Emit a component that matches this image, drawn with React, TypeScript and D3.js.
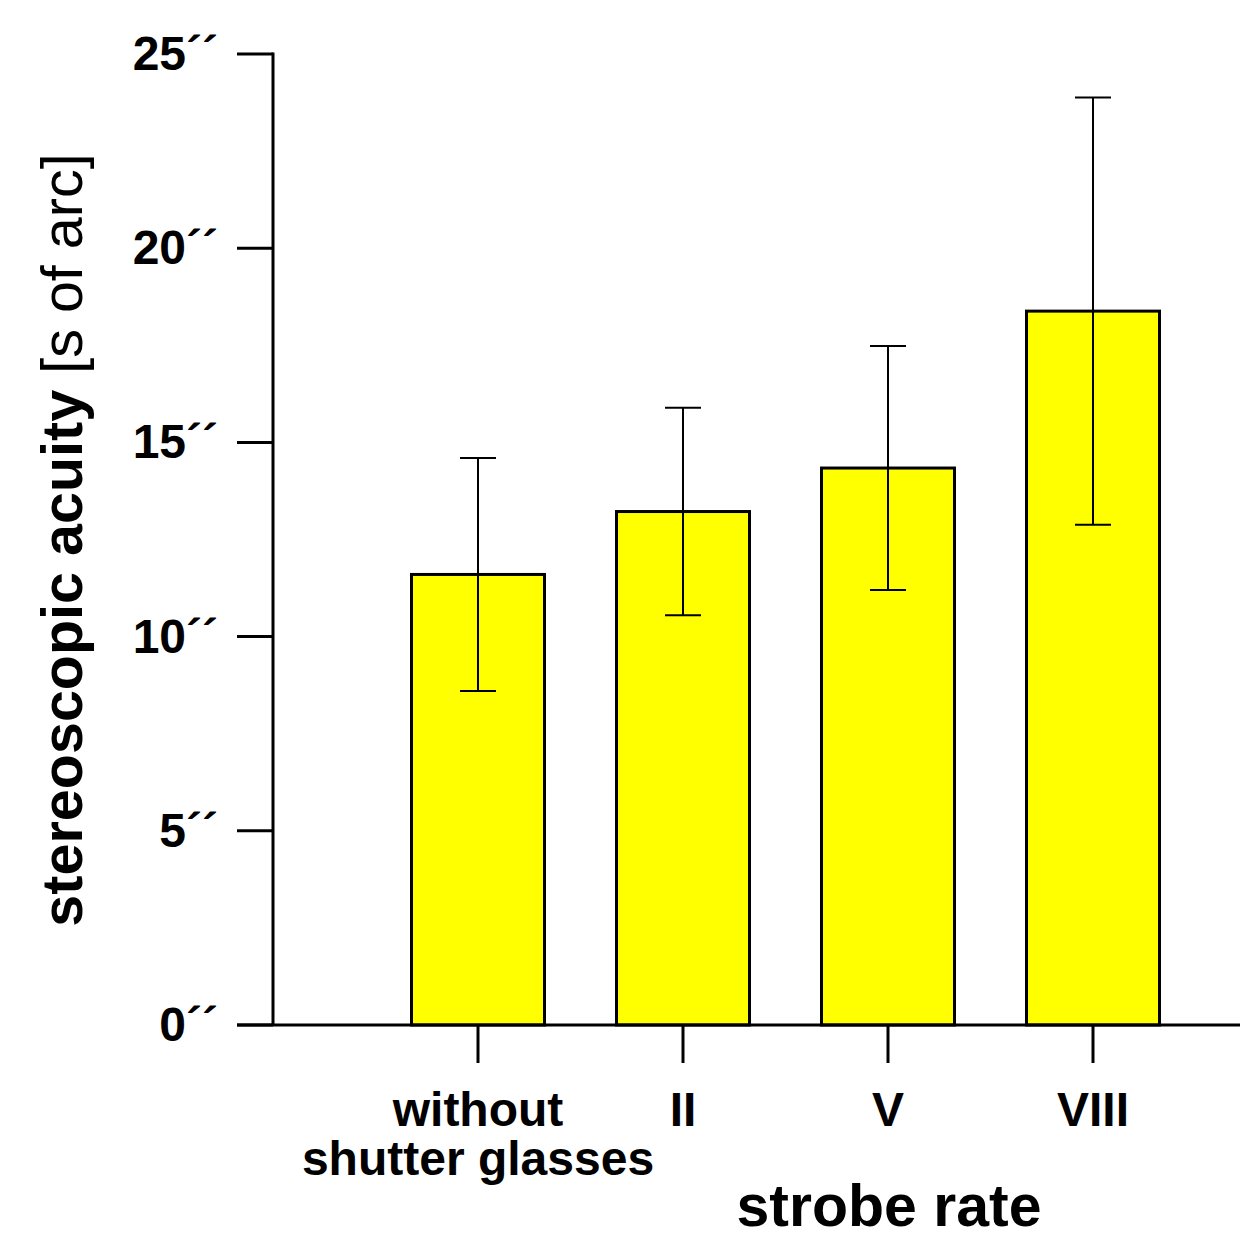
import { useEffect, useRef } from 'react';
import * as d3 from 'd3';

const CATEGORIES = ['without|shutter glasses', 'II', 'V', 'VIII'];
const MEANS = [11.6, 13.22, 14.34, 18.38];
const ERRORS = [3.0, 2.67, 3.14, 5.5];
const Y_TICKS = [0, 5, 10, 15, 20, 25];

const FONT = '"Liberation Sans", Arial, Helvetica, sans-serif';

export default function App() {
  const svgRef = useRef<SVGSVGElement>(null);

  useEffect(() => {
    const svgEl = svgRef.current;
    if (!svgEl) return;
    const svg = d3.select(svgEl);
    svg.selectAll('*').remove();

    const y = d3.scaleLinear().domain([0, 25]).range([1025, 54]);
    const x = d3.scalePoint<string>().domain(CATEGORIES).range([478, 1093]);
    const axisX = 273;
    const barW = 133;
    const capW = 36;

    // bars
    svg.append('g').selectAll('rect').data(MEANS).join('rect')
      .attr('x', (_, i) => x(CATEGORIES[i])! - barW / 2)
      .attr('y', (d) => y(d))
      .attr('width', barW)
      .attr('height', (d) => y(0) - y(d))
      .attr('fill', '#ffff00').attr('stroke', '#000').attr('stroke-width', 3);

    // error bars
    const err = svg.append('g').attr('stroke', '#000').attr('stroke-width', 2);
    MEANS.forEach((m, i) => {
      const cx = x(CATEGORIES[i])!;
      const hi = y(m + ERRORS[i]), lo = y(m - ERRORS[i]);
      err.append('line').attr('x1', cx).attr('x2', cx).attr('y1', hi).attr('y2', lo);
      err.append('line').attr('x1', cx - capW / 2).attr('x2', cx + capW / 2).attr('y1', hi).attr('y2', hi);
      err.append('line').attr('x1', cx - capW / 2).attr('x2', cx + capW / 2).attr('y1', lo).attr('y2', lo);
    });

    // axes lines
    svg.append('line').attr('x1', axisX).attr('x2', axisX).attr('y1', y(25) - 1.5).attr('y2', y(0))
      .attr('stroke', '#000').attr('stroke-width', 3);
    svg.append('line').attr('x1', 237).attr('x2', 1240).attr('y1', y(0)).attr('y2', y(0))
      .attr('stroke', '#000').attr('stroke-width', 3);

    // y ticks
    const yt = svg.append('g').selectAll('g').data(Y_TICKS).join('g')
      .attr('transform', (d) => `translate(0,${y(d)})`);
    yt.append('line').attr('x1', 237).attr('x2', axisX).attr('stroke', '#000').attr('stroke-width', 3);
    yt.append('text').attr('x', 218).attr('y', 16).attr('text-anchor', 'end')
      .attr('font-family', FONT).attr('font-weight', 700).attr('font-size', 48).attr('fill', '#000')
      .text((d) => `${d}\u00b4\u00b4`);

    // x ticks
    const xt = svg.append('g').selectAll('g').data(CATEGORIES).join('g')
      .attr('transform', (d) => `translate(${x(d)},0)`);
    xt.append('line').attr('y1', y(0)).attr('y2', 1063).attr('stroke', '#000').attr('stroke-width', 3);
    xt.each(function (d) {
      const lines = d.split('|');
      const t = d3.select(this).append('text').attr('text-anchor', 'middle')
        .attr('font-family', FONT).attr('font-weight', 700).attr('font-size', 48).attr('fill', '#000');
      lines.forEach((l, i) => t.append('tspan').attr('x', 0).attr('y', 1126 + i * 49).text(l));
    });

    // axis titles
    svg.append('text').attr('x', 889).attr('y', 1226).attr('text-anchor', 'middle')
      .attr('font-family', FONT).attr('font-weight', 700).attr('font-size', 59).attr('fill', '#000')
      .text('strobe rate');

    const yTitle = svg.append('text').attr('transform', 'translate(82,540) rotate(-90)')
      .attr('text-anchor', 'middle').attr('font-family', FONT).attr('font-size', 57.5).attr('fill', '#000');
    yTitle.append('tspan').attr('font-weight', 700).text('stereoscopic acuity');
    yTitle.append('tspan').attr('font-weight', 400).text(' [s of arc]');
  }, []);

  return (
    <svg ref={svgRef} width={1240} height={1239}
      style={{ position: 'absolute', left: 0, top: 0, background: '#fff' }} />
  );
}
